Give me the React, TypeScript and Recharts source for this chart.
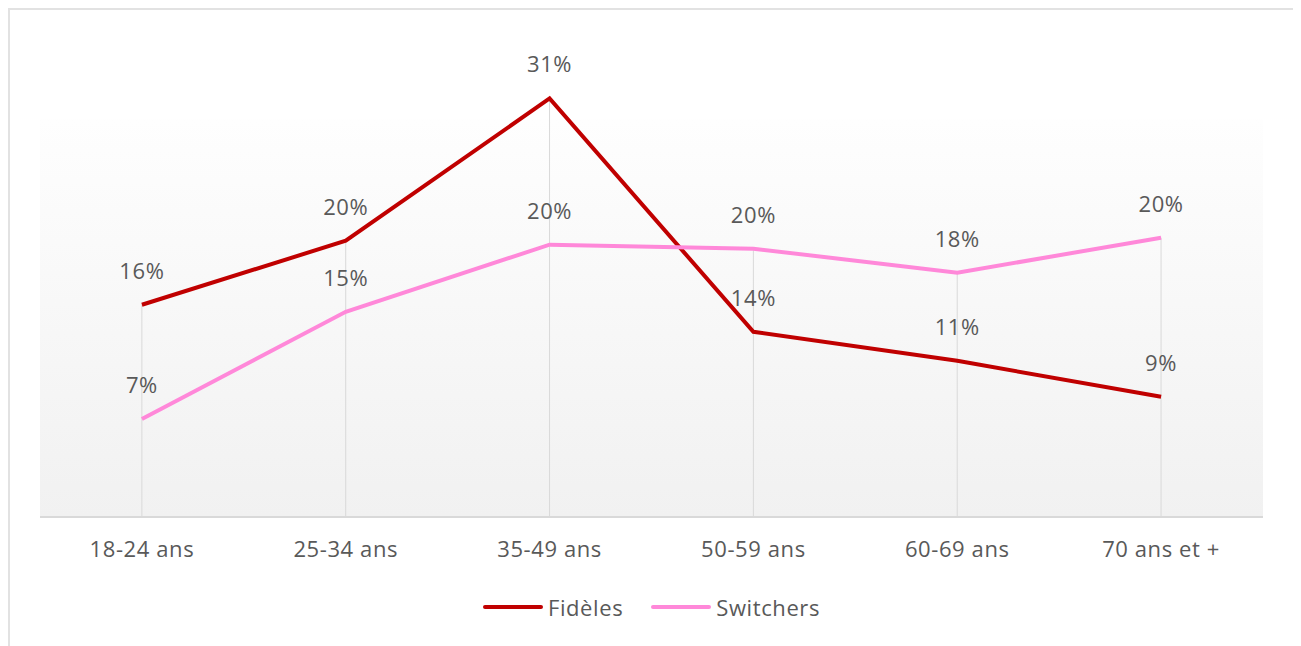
import React from 'react';
import { ComposedChart, Line, Bar, XAxis, YAxis, ReferenceArea, LabelList, Legend } from 'recharts';

const categories = ['18-24 ans', '25-34 ans', '35-49 ans', '50-59 ans', '60-69 ans', '70 ans et +'];
const fideles = [15.54, 20.23, 30.65, 13.56, 11.44, 8.8];
const switchers = [7.18, 15.03, 19.94, 19.65, 17.89, 20.45];

const RED = '#C00000';
const PINK = '#FF88D9';
const TEXT = '#595959';
const FONT = '"Open Sans", Lato, sans-serif';
const FS = 22;
const LS = 0.6;

const data = categories.map((c, i) => ({
  cat: c,
  fideles: fideles[i],
  switchers: switchers[i],
  drop: Math.max(fideles[i], switchers[i]),
}));

const DropLine = (props: any) => {
  const { x, y, width, height } = props;
  const cx = x + width / 2;
  return <line x1={cx} x2={cx} y1={y} y2={y + height} stroke="#d9d9d9" strokeWidth={1} />;
};

const PointLabel = (props: any) => {
  const { x, y, value } = props;
  return (
    <text x={x} y={y - 35} textAnchor="middle" dominantBaseline="central" fontSize={FS} letterSpacing={LS} fill={TEXT} fontFamily={FONT}>
      {Math.round(value)}%
    </text>
  );
};

const legendItems = [
  { name: 'Fidèles', color: RED },
  { name: 'Switchers', color: PINK },
];

const LegendContent = () => (
  <div style={{ display: 'flex', justifyContent: 'center', alignItems: 'center', height: 30, fontFamily: FONT, fontSize: FS, letterSpacing: LS, color: TEXT }}>
    {legendItems.map((it, i) => (
      <div key={it.name} style={{ display: 'flex', alignItems: 'center', marginLeft: i ? 28 : 0 }}>
        <div style={{ width: 60, height: 4, borderRadius: 2, background: it.color, marginRight: 5 }} />
        <span>{it.name}</span>
      </div>
    ))}
  </div>
);

export default function App() {
  return (
    <div style={{ position: 'relative', width: 1283, height: 640, border: '2px solid #e2e2e2', background: '#fff' }}>
      <ComposedChart width={1283} height={640} data={data} margin={{ top: 70, right: 30, bottom: 63, left: 30 }}>
        <defs>
          <linearGradient id="plotBg" x1="0" y1="0" x2="0" y2="1">
            <stop offset="0%" stopColor="#fefefe" />
            <stop offset="100%" stopColor="#f1f1f1" />
          </linearGradient>
        </defs>
        <XAxis
          dataKey="cat"
          height={40}
          tickLine={false}
          tickSize={0}
          tickMargin={24}
          axisLine={{ stroke: '#d9d9d9', strokeWidth: 2 }}
          tick={{ fill: TEXT, fontSize: FS, fontFamily: FONT, letterSpacing: LS }}
        />
        <YAxis hide domain={[0, 32]} />
        <ReferenceArea y1={0} y2={29.1} fill="url(#plotBg)" fillOpacity={1} stroke="none" ifOverflow="visible" />
        <Bar dataKey="drop" shape={<DropLine />} isAnimationActive={false} legendType="none" />
        <Line dataKey="fideles" name="Fidèles" stroke={RED} strokeWidth={4} dot={false} activeDot={false} isAnimationActive={false}>
          <LabelList dataKey="fideles" content={<PointLabel />} />
        </Line>
        <Line dataKey="switchers" name="Switchers" stroke={PINK} strokeWidth={4} dot={false} activeDot={false} isAnimationActive={false}>
          <LabelList dataKey="switchers" content={<PointLabel />} />
        </Line>
        <Legend
          verticalAlign="bottom"
          content={<LegendContent />}
          wrapperStyle={{ top: 582, bottom: 'auto', left: 0, width: 1283, height: 30 }}
        />
      </ComposedChart>
    </div>
  );
}
